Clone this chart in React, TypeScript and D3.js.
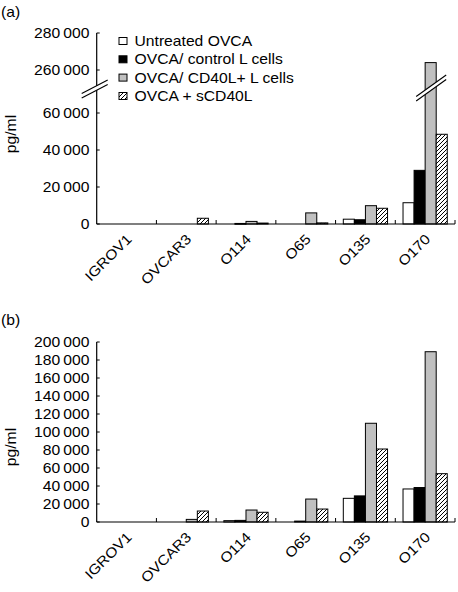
import React from "react";
import * as d3 from "d3";

const categories = ["IGROV1", "OVCAR3", "O114", "O65", "O135", "O170"];
const seriesNames = [
  "Untreated OVCA",
  "OVCA/ control L cells",
  "OVCA/ CD40L+ L cells",
  "OVCA + sCD40L",
];

// Panel (a)
const untreatedA = [0, 0, 0, 0, 2600, 11500];
const controlA = [0, 0, 300, 0, 2300, 29000];
const cd40lA = [0, 0, 1400, 6000, 9900, 264000];
const sCD40LA = [0, 3100, 500, 600, 8500, 48500];

// Panel (b)
const untreatedB = [0, 0, 1500, 0, 26300, 36700];
const controlB = [0, 0, 1800, 1000, 29000, 38300];
const cd40lB = [0, 2900, 13300, 25500, 109700, 189200];
const sCD40LB = [0, 12200, 10800, 14400, 81100, 53700];

const ticksALower = [0, 20000, 40000, 60000];
const ticksAUpper = [260000, 280000];
const ticksB = [0, 20000, 40000, 60000, 80000, 100000, 120000, 140000, 160000, 180000, 200000];

const W = 458;
const H = 592;
const FONT = "'Liberation Sans', Arial, Helvetica, sans-serif";
const SX = 1.12;
const FS = 14;

const fills = ["#ffffff", "#000000", "#c0c0c0", "url(#hatch)"];

function T({ x, y, rot = 0, anchor = "start", dy = 0, size = FS, children }: any) {
  return (
    <text
      transform={`translate(${x},${y}) rotate(${rot}) scale(${SX},1)`}
      textAnchor={anchor}
      dy={dy}
      fontSize={size}
      fontFamily={FONT}
      fill="#000"
    >
      {children}
    </text>
  );
}

const fmt = (v: number) => (v === 0 ? "0" : d3.format(",")(v).replace(/,/g, "\u2009"));

function Bars({ data, x, y, y0 }: any) {
  const inner = d3
    .scaleBand()
    .domain(seriesNames)
    .range([0, x.bandwidth()])
    .paddingInner(0)
    .paddingOuter(0.7);
  return (
    <g>
      {categories.map((c, ci) => (
        <g key={c}>
          {seriesNames.map((s, si) => {
            const v = data[si][ci];
            if (v <= 0) return null;
            const bx = (x(c) as number) + (inner(s) as number);
            const top = y(v);
            return (
              <rect
                key={s}
                x={bx}
                y={top}
                width={inner.bandwidth()}
                height={Math.max(0.8, y0 - top)}
                fill={fills[si]}
                stroke="#000"
                strokeWidth={1}
              />
            );
          })}
        </g>
      ))}
    </g>
  );
}

function XAxis({ x, y0 }: any) {
  const [r0, r1] = x.range();
  const bounds = categories.map((c) => x(c) as number).concat([r1]);
  return (
    <g>
      <line x1={r0} x2={r1} y1={y0} y2={y0} stroke="#000" strokeWidth={1.2} />
      {bounds.slice(1).map((b: number, i: number) => (
        <line key={i} x1={b} x2={b} y1={y0} y2={y0 - 4} stroke="#000" strokeWidth={1} />
      ))}
      {categories.map((c) => (
        <T key={c} x={(x(c) as number) + x.bandwidth() / 2 + 6} y={y0 + 16} rot={-45} anchor="end">
          {c}
        </T>
      ))}
    </g>
  );
}

function Break({ cx, cy, half, slope, gap }: any) {
  const x1 = cx - half;
  const x2 = cx + half;
  const ya1 = cy - gap / 2 - slope * (x1 - cx);
  const ya2 = cy - gap / 2 - slope * (x2 - cx);
  const yb1 = cy + gap / 2 - slope * (x1 - cx);
  const yb2 = cy + gap / 2 - slope * (x2 - cx);
  return (
    <g>
      <path d={`M${x1},${ya1}L${x2},${ya2}L${x2},${yb2}L${x1},${yb1}Z`} fill="#fff" stroke="none" />
      <line x1={x1} y1={ya1} x2={x2} y2={ya2} stroke="#000" strokeWidth={1.1} />
      <line x1={x1} y1={yb1} x2={x2} y2={yb2} stroke="#000" strokeWidth={1.1} />
    </g>
  );
}

export default function App() {
  const axX = 96.7;
  const xEnd = 455;
  const x = d3.scaleBand().domain(categories).range([axX, xEnd]).padding(0);

  // Panel (a): broken y axis
  const yA0 = 224;
  const lowA = d3.scaleLinear().domain([0, 70000]).range([yA0, 94.5]);
  const upA = d3.scaleLinear().domain([250000, 280000]).range([88.5, 33]);
  const yA = (v: number) => (v <= 70000 ? lowA(v) : upA(v));
  const breakY = 89;

  // Panel (b)
  const yB0 = 522;
  const yB = d3.scaleLinear().domain([0, 200000]).range([yB0, 342]);

  const dataA = [untreatedA, controlA, cd40lA, sCD40LA];
  const dataB = [untreatedB, controlB, cd40lB, sCD40LB];

  const o170x =
    (x("O170") as number) +
    (d3.scaleBand().domain(seriesNames).range([0, x.bandwidth()]).paddingInner(0).paddingOuter(0.7)(seriesNames[2]) as number);
  const innerBW = x.bandwidth() / (4 + 1.4);

  const legendY = [41, 59.3, 77.6, 96];

  return (
    <svg
      width={W}
      height={H}
      style={{ position: "absolute", left: 0, top: 0, background: "#fff" }}
    >
      <defs>
        <pattern id="hatch" patternUnits="userSpaceOnUse" width={4} height={4}>
          <rect width={4} height={4} fill="#fff" />
          <path d="M-1,1 l2,-2 M0,4 l4,-4 M3,5 l2,-2" stroke="#000" strokeWidth={1} />
        </pattern>
      </defs>
      <rect width={W} height={H} fill="#fff" />

      {/* Panel (a) */}
      <T x={1} y={17}>(a)</T>
      <T x={16} y={134} rot={-90} anchor="middle">pg/ml</T>
      <Bars data={dataA} x={x} y={yA} y0={yA0} />
      <line x1={axX} x2={axX} y1={33} y2={yA0} stroke="#000" strokeWidth={1.2} />
      {ticksALower.map((t) => (
        <g key={t}>
          <line x1={axX} x2={axX + 3} y1={lowA(t)} y2={lowA(t)} stroke="#000" />
          <T x={89.5} y={lowA(t)} dy="0.36em" anchor="end">{fmt(t)}</T>
        </g>
      ))}
      {ticksAUpper.map((t) => (
        <g key={t}>
          <line x1={axX} x2={axX + 3} y1={upA(t)} y2={upA(t)} stroke="#000" />
          <T x={89.5} y={upA(t)} dy="0.36em" anchor="end">{fmt(t)}</T>
        </g>
      ))}
      <Break cx={axX - 2} cy={breakY} half={13} slope={0.52} gap={4.5} />
      <Break cx={o170x + innerBW / 2 + 0.5} cy={breakY - 1} half={15} slope={0.72} gap={4.5} />
      <XAxis x={x} y0={yA0} />

      {/* Legend */}
      {seriesNames.map((s, i) => (
        <g key={s}>
          <rect x={119} y={legendY[i] - 3.5} width={8} height={7} fill={fills[i]} stroke="#000" strokeWidth={1} />
          <T x={134.5} y={legendY[i]} dy="0.36em">{s}</T>
        </g>
      ))}

      {/* Panel (b) */}
      <T x={1} y={325}>(b)</T>
      <T x={16} y={447} rot={-90} anchor="middle">pg/ml</T>
      <Bars data={dataB} x={x} y={yB} y0={yB0} />
      <line x1={axX} x2={axX} y1={342} y2={yB0} stroke="#000" strokeWidth={1.2} />
      {ticksB.map((t) => (
        <g key={t}>
          <line x1={axX} x2={axX + 3} y1={yB(t)} y2={yB(t)} stroke="#000" />
          <T x={89.5} y={yB(t)} dy="0.36em" anchor="end">{fmt(t)}</T>
        </g>
      ))}
      <XAxis x={x} y0={yB0} />
    </svg>
  );
}
